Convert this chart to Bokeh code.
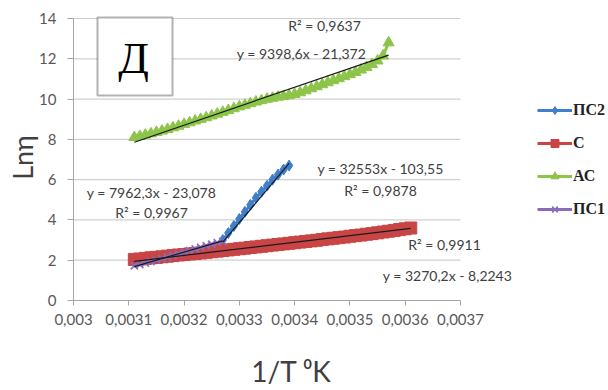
import math
from bokeh.plotting import figure
from bokeh.models import (Range1d, FixedTicker, Label, BoxAnnotation, Legend, LegendItem,
                          LinearAxis)
from bokeh.embed import file_html
from bokeh.resources import INLINE

# ---------------- data ----------------
x_ticks = [0.003, 0.0031, 0.0032, 0.0033, 0.0034, 0.0035, 0.0036, 0.0037]
x_tick_labels = ["0,003", "0,0031", "0,0032", "0,0033", "0,0034", "0,0035", "0,0036", "0,0037"]
y_ticks = [0, 2, 4, 6, 8, 10, 12, 14]

series_names = ["ПС2", "С", "АС", "ПС1"]

ps2_x = [0.00327, 0.00328, 0.00329, 0.00330, 0.00331, 0.00332, 0.00333,
         0.00334, 0.00335, 0.00336, 0.00337, 0.00338, 0.00339]
ps2_y = [3.00, 3.35, 3.70, 4.05, 4.40, 4.75, 5.10, 5.40, 5.70, 6.00, 6.25, 6.50, 6.70]

c_x = [0.00311, 0.00312, 0.00313, 0.00314, 0.00315, 0.00316, 0.00317, 0.00318, 0.00319, 0.00320,
       0.00321, 0.00322, 0.00323, 0.00324, 0.00325, 0.00326, 0.00327, 0.00328, 0.00329, 0.00330,
       0.00331, 0.00332, 0.00333, 0.00334, 0.00335, 0.00336, 0.00337, 0.00338, 0.00339, 0.00340,
       0.00341, 0.00342, 0.00343, 0.00344, 0.00345, 0.00346, 0.00347, 0.00348, 0.00349, 0.00350,
       0.00351, 0.00352, 0.00353, 0.00354, 0.00355, 0.00356, 0.00357, 0.00358, 0.00359, 0.00360,
       0.00361]
c_y = [2.04, 2.06, 2.09, 2.12, 2.14, 2.17, 2.20, 2.23, 2.26, 2.28,
       2.31, 2.33, 2.36, 2.39, 2.42, 2.45, 2.48, 2.51, 2.54, 2.57,
       2.60, 2.63, 2.66, 2.69, 2.72, 2.75, 2.78, 2.81, 2.84, 2.87,
       2.90, 2.93, 2.96, 2.99, 3.03, 3.06, 3.09, 3.12, 3.15, 3.19,
       3.22, 3.25, 3.29, 3.32, 3.36, 3.40, 3.44, 3.48, 3.52, 3.56,
       3.60]

ac_x = [0.00311, 0.00312, 0.00313, 0.00314, 0.00315, 0.00316, 0.00317, 0.00318, 0.00319, 0.00320,
        0.00321, 0.00322, 0.00323, 0.00324, 0.00325, 0.00326, 0.00327, 0.00328, 0.00329, 0.00330,
        0.00331, 0.00332, 0.00333, 0.00334, 0.00335, 0.00336, 0.00337, 0.00338, 0.00339, 0.00340,
        0.00341, 0.00342, 0.00343, 0.00344, 0.00345, 0.00346, 0.00347, 0.00348, 0.00349, 0.00350,
        0.00351, 0.00352, 0.00353, 0.00354, 0.00355, 0.00356, 0.00357]
ac_y = [8.10, 8.15, 8.22, 8.28, 8.35, 8.42, 8.50, 8.58, 8.66, 8.75,
        8.83, 8.92, 9.00, 9.08, 9.17, 9.26, 9.35, 9.44, 9.53, 9.62,
        9.70, 9.78, 9.86, 9.93, 10.00, 10.05, 10.10, 10.14, 10.18, 10.24,
        10.32, 10.42, 10.52, 10.62, 10.72, 10.82, 10.92, 11.02, 11.12, 11.22,
        11.33, 11.45, 11.58, 11.72, 11.90, 12.15, 12.80]

ps1_x = [0.00311, 0.00312, 0.00313, 0.00314, 0.00315, 0.00316, 0.00317, 0.00318, 0.00319,
         0.00320, 0.00321, 0.00322, 0.00323, 0.00324, 0.00325, 0.00326, 0.00327]
ps1_y = [1.72, 1.78, 1.85, 1.93, 2.01, 2.08, 2.16, 2.24, 2.32,
         2.40, 2.48, 2.56, 2.64, 2.72, 2.80, 2.87, 2.94]

# linear trend lines  y = a*x + b   (order: ПС2, С, АС, ПС1)
trend_a = [32553.0, 3270.2, 9398.6, 7962.3]
trend_b = [-103.55, -8.2243, -21.372, -23.078]
eq_texts = ["y = 32553x - 103,55", "y = 3270,2x - 8,2243", "y = 9398,6x - 21,372", "y = 7962,3x - 23,078"]
r2_texts = ["R² = 0,9878", "R² = 0,9911", "R² = 0,9637", "R² = 0,9967"]

# ---------------- layout ----------------
W, H = 608, 390
# pixel positions of the axis box (picture pixels)
AX_L, AX_R, AX_T, AX_B = 73, 460, 18, 300
X0, X1, Y0, Y1 = 0.003, 0.0037, 0.0, 14.0
kx = (AX_R - AX_L) / (X1 - X0)
ky = (AX_B - AX_T) / (Y1 - Y0)
x_start = X0 - AX_L / kx
x_end = X0 + (W - AX_L) / kx
y_end = Y1 + AX_T / ky
y_start = Y0 - (H - AX_B) / ky


def at(px, py):
    """picture pixel position -> data coordinates"""
    return x_start + px / kx, y_end - py / ky


p = figure(width=W, height=H, output_backend="svg", toolbar_location=None,
           x_range=Range1d(x_start, x_end), y_range=Range1d(y_start, y_end),
           x_axis_location=None, y_axis_location=None,
           min_border_left=0, min_border_right=0, min_border_top=0, min_border_bottom=0)
p.outline_line_color = None
p.background_fill_color = "white"
p.border_fill_color = "white"
p.grid.visible = False

# horizontal grid lines limited to the axis box
grid_y = [t for t in y_ticks if t > 0]
p.segment(x0=[X0] * len(grid_y), x1=[X1] * len(grid_y), y0=grid_y, y1=grid_y,
          line_color="#d0d0d0", line_width=1.2)

xaxis = LinearAxis(fixed_location=0, bounds=(X0, X1), ticker=FixedTicker(ticks=x_ticks),
                   major_label_overrides=dict(zip(x_ticks, x_tick_labels)))
yaxis = LinearAxis(fixed_location=X0, bounds=(Y0, Y1), ticker=FixedTicker(ticks=y_ticks))
for ax in (xaxis, yaxis):
    ax.axis_line_color = "#a6a6a6"
    ax.major_tick_line_color = "#a6a6a6"
    ax.minor_tick_line_color = None
    ax.major_tick_in = 0
    ax.major_label_text_font = "Lato"
    ax.major_label_text_font_size = "15px"
    ax.major_label_text_color = "#595959"
xaxis.major_tick_out = 5
xaxis.major_label_standoff = 8
yaxis.major_tick_out = 6
yaxis.major_label_standoff = 11
p.add_layout(xaxis, "below")
p.add_layout(yaxis, "left")

colors = ["#3F7FCB", "#C94545", "#8DC44A", "#8A6DB8"]
xs = [ps2_x, c_x, ac_x, ps1_x]
ys = [ps2_y, c_y, ac_y, ps1_y]
markers = ["diamond", "square", "triangle", "x"]
sizes = [11, 12, 11, 10]

items = {}
for i in range(4):
    ln = p.line(xs[i], ys[i], line_color=colors[i], line_width=3)
    if markers[i] == "x":
        sc = p.scatter(xs[i], ys[i], marker="x", size=sizes[i], line_color=colors[i], line_width=1.6)
    else:
        sc = p.scatter(xs[i], ys[i], marker=markers[i], size=sizes[i],
                       fill_color=colors[i], line_color=colors[i], line_width=1)
    items[i] = [ln, sc]

# trend lines
for i in [2, 1, 3, 0]:
    x0, x1 = min(xs[i]), max(xs[i])
    p.line([x0, x1], [trend_a[i] * x0 + trend_b[i], trend_a[i] * x1 + trend_b[i]],
           line_color="#1a1a1a", line_width=1.2)

# equation / R² labels
eq_pos = [(380, 168), (447, 275), (301, 53), (151, 192)]
r2_pos = [(380, 190), (444, 244), (324, 25), (151, 212)]
for i in range(4):
    for pos, t in ((eq_pos[i], eq_texts[i]), (r2_pos[i], r2_texts[i])):
        lx, ly = at(*pos)
        p.add_layout(Label(x=lx, y=ly, text=t, text_align="center", text_baseline="middle",
                           text_font="Lato", text_font_size="14px", text_color="#404040"))

# "Д" box
bl, bt = at(97, 17)
br, bb = at(172, 95)
p.add_layout(BoxAnnotation(left=bl, right=br, bottom=bb, top=bt,
                           fill_color="white", fill_alpha=1, line_color="black", line_width=2))
dx, dy = at(133, 57)
p.add_layout(Label(x=dx, y=dy, text="Д", text_align="center", text_baseline="middle",
                   text_font="Liberation Serif", text_font_size="45px", text_color="black"))

# axis titles
tx, ty = at(291, 370)
p.add_layout(Label(x=tx, y=ty, text="1/T ⁰K", text_align="center", text_baseline="middle",
                   text_font="Lato", text_font_size="28px", text_color="#404040"))
lx, ly = at(22, 157)
p.add_layout(Label(x=lx, y=ly, text="Lnη", angle=math.pi / 2, text_align="center",
                   text_baseline="middle", text_font="Lato", text_font_size="27px",
                   text_color="#404040"))

# legend (glyph starts at x 537, rows at y 110 .. 210)
legend = Legend(items=[LegendItem(label=series_names[i], renderers=items[i]) for i in range(4)],
                location=(537, H - 219), padding=0, margin=0, spacing=13,
                label_height=20, glyph_height=20, glyph_width=35, label_standoff=1,
                label_text_font="Liberation Serif", label_text_font_style="bold",
                label_text_font_size="16px", label_text_color="#222222",
                label_text_baseline="middle",
                border_line_color=None, background_fill_alpha=0)
p.add_layout(legend)

open("out.html", "w").write(file_html(p, INLINE))
